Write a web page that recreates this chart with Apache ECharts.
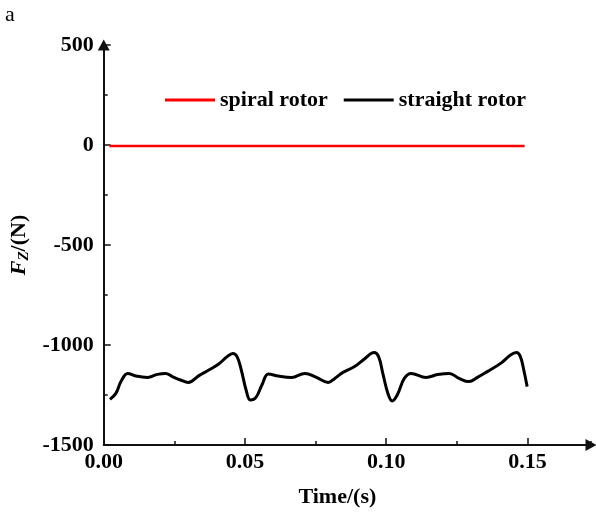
<!DOCTYPE html>
<html>
<head>
<meta charset="utf-8">
<script src="https://cdn.jsdelivr.net/npm/echarts@6/dist/echarts.min.js"></script>
<style>html,body{margin:0;padding:0;background:#fff;}#c{width:596px;height:516px;}</style>
</head>
<body>
<div id="c"></div>
<script>
const straightT = [0.0022,0.0043,0.0061,0.0085,0.0114,0.0155,0.0190,0.0219,0.0243,0.0272,0.0299,0.0337,0.0372,0.0407,0.0437,0.0457,0.0472,0.0487,0.0504,0.0519,0.0539,0.0560,0.0583,0.0618,0.0665,0.0712,0.0753,0.0794,0.0818,0.0847,0.0888,0.0923,0.0957,0.0973,0.0988,0.1006,0.1021,0.1039,0.1064,0.1088,0.1141,0.1182,0.1223,0.1258,0.1293,0.1323,0.1358,0.1405,0.1440,0.1461,0.1475,0.1487,0.1499];
const straightF = [-1272,-1242,-1183,-1142,-1155,-1162,-1147,-1142,-1158,-1175,-1187,-1153,-1125,-1095,-1058,-1042,-1058,-1125,-1225,-1275,-1262,-1200,-1145,-1155,-1162,-1142,-1162,-1187,-1167,-1137,-1108,-1070,-1038,-1058,-1142,-1242,-1280,-1250,-1167,-1142,-1162,-1148,-1142,-1167,-1183,-1162,-1133,-1092,-1050,-1038,-1058,-1125,-1208];
const spiralT = [0.002,0.05,0.10,0.149];
const spiralF = [-5,-5,-5,-5];
const yTicks = [-1500,-1000,-500,0,500];
const xTicks = [0.00,0.05,0.10,0.15];
const seriesNames = ['spiral rotor','straight rotor'];

const font = '"Liberation Serif","Times New Roman",serif';
const chart = echarts.init(document.getElementById('c'));
const axisLineStyle = {color:'#111', width:2};
chart.setOption({
  animation:false,
  backgroundColor:'#fff',
  graphic:[{type:'text', left:5, top:4, style:{text:'a', font:'22px '+font, fill:'#000'}}],
  legend:{
    left:160, top:84, itemWidth:50, itemHeight:3, itemGap:16, icon:'rect',
    data:seriesNames,
    textStyle:{fontFamily:font, fontWeight:'bold', fontSize:22, color:'#000'}
  },
  grid:{left:101, right:5, top:45, bottom:71},
  xAxis:[{
    type:'value', min:0, max:0.1725, interval:0.05,
    name:'Time/(s)', nameLocation:'middle', nameGap:41,
    nameTextStyle:{fontFamily:font, fontWeight:'bold', fontSize:22, color:'#000', padding:[0,0,0,-20]},
    axisLine:{show:true, onZero:false, lineStyle:axisLineStyle, symbol:['none','triangle'], symbolSize:[12,11]},
    axisTick:{show:true, inside:true, length:7, lineStyle:{color:'#111', width:1.5}},
    axisLabel:{fontFamily:font, fontWeight:'bold', fontSize:22, color:'#000', margin:6, showMaxLabel:false,
      formatter:v=>{const i=xTicks.findIndex(t=>Math.abs(t-v)<1e-9);return i>=0?xTicks[i].toFixed(2):'';}},
    splitLine:{show:false}
  },{
    type:'value', min:0, max:0.1725, interval:0.025, position:'bottom',
    axisLine:{show:false, onZero:false}, axisLabel:{show:false}, splitLine:{show:false},
    axisTick:{show:true, inside:true, length:4, lineStyle:{color:'#111', width:1.5}}
  }],
  yAxis:{
    type:'value', min:-1500, max:500, interval:500,
    name:'{f|F}{s|Z}{n|/(N)}', nameLocation:'middle', nameGap:68, nameRotate:90,
    nameTextStyle:{rich:{
      f:{fontFamily:font, fontWeight:'bold', fontStyle:'italic', fontSize:22, color:'#000'},
      s:{fontFamily:font, fontWeight:'bold', fontStyle:'italic', fontSize:15, color:'#000', verticalAlign:'bottom', padding:[10,0,0,0]},
      n:{fontFamily:font, fontWeight:'bold', fontSize:22, color:'#000'}
    }},
    axisLine:{show:true, onZero:false, lineStyle:axisLineStyle, symbol:['none','triangle'], symbolSize:[12,11]},
    axisTick:{show:true, inside:true, length:7, lineStyle:{color:'#111', width:1.5}},
    minorTick:{show:true, splitNumber:2, length:4, lineStyle:{color:'#111', width:1.5}},
    axisLabel:{fontFamily:font, fontWeight:'bold', fontSize:22, color:'#000', margin:10,
      formatter:v=>yTicks.includes(v)?String(v):''},
    splitLine:{show:false}
  },
  series:[{
    name:seriesNames[0], type:'line', symbol:'none', showSymbol:false,
    lineStyle:{color:'#ff0000', width:2.5}, itemStyle:{color:'#ff0000'},
    data:spiralT.map((t,i)=>[t,spiralF[i]])
  },{
    name:seriesNames[1], type:'line', symbol:'none', showSymbol:false, smooth:0.4,
    lineStyle:{color:'#000', width:3}, itemStyle:{color:'#000'},
    data:straightT.map((t,i)=>[t,straightF[i]])
  }]
});
</script>
</body>
</html>
